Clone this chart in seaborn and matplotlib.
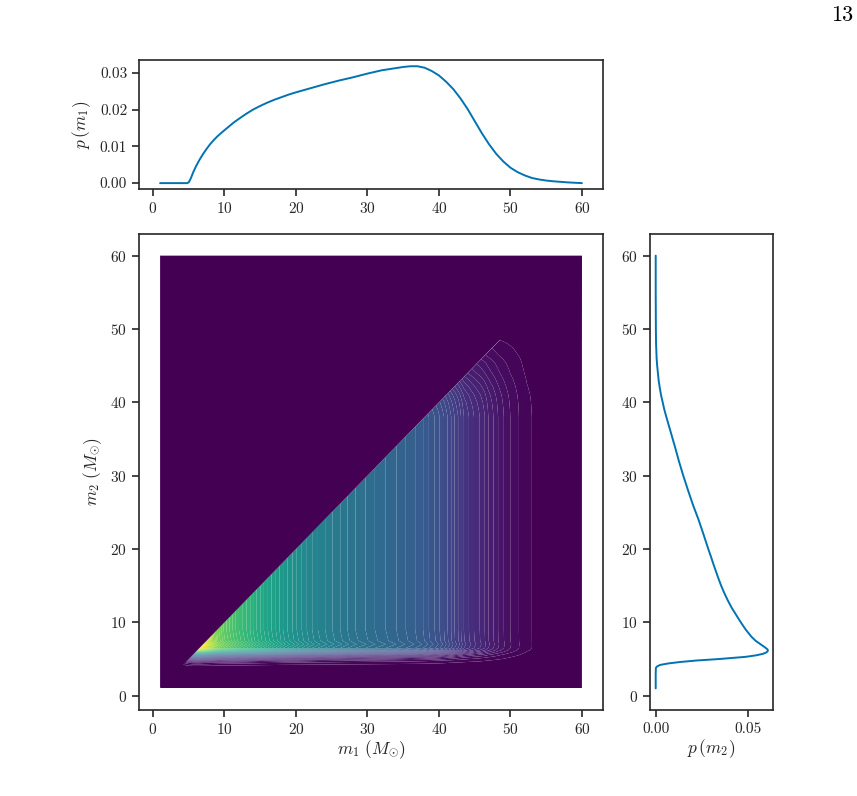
import numpy as np
import matplotlib
matplotlib.use("Agg")
import matplotlib.pyplot as plt
from matplotlib.patches import Polygon
import seaborn as sns

# marginal of m1
m1_vals = [1, 3, 4.8, 5, 5.3, 5.6, 6, 6.5, 7, 7.5, 8, 8.5, 9, 9.7, 10.5, 11.3, 12.1, 13, 14, 15, 16, 17, 18, 19, 20,
           22, 24, 26, 28, 30, 32, 34, 35, 36, 37, 38, 39, 40, 41, 42, 43, 44, 45, 46, 47, 48, 49, 50,
           51, 52, 53, 54, 55, 56, 58, 60]
p_m1 = [0, 0, 0, .0002, .0013, .0028, .0045, .0063, .0079, .0093, .0106, .0117, .0127, .0139, .0152, .0165, .0176,
        .0188, .02, .021, .0219, .0227, .0234, .0241, .0247,
        .0258, .0269, .0279, .0288, .0298, .0307, .0313, .0316, .0318, .0318, .0314, .0305, .0293, .0276, .0256, .0231,
        .0202, .0169, .0136, .0106, .008, .0059, .0042,
        .003, .0021, .0014, .001, .0007, .0005, .0002, 0]

# marginal of m2
m2_vals = [1, 3, 3.8, 4, 4.2, 4.4, 4.6, 4.8, 5, 5.3, 5.5, 5.7, 5.9, 6.1, 6.3, 6.6, 7, 7.5, 8, 9, 10, 11, 12, 13, 14,
           15, 16, 17, 18, 19, 20, 21, 22, 24, 26, 28, 30, 32, 34, 36, 38, 39, 40, 41, 42, 43, 44, 45, 46, 48, 50, 55, 60]
p_m2 = [0, 0, .0001, .0008, .0025, .0069, .0135, .0223, .0345, .049, .0545, .0582, .0602, .061, .0609, .0594, .0571,
        .0543, .0522, .049, .0463, .0438, .0413, .0392, .0373,
        .0356, .0341, .0327, .0313, .03, .0286, .0273, .026, .0233, .0203, .0176, .015, .0126, .0104, .0081, .0058,
        .0047, .0038, .0029, .0022, .0016, .0012, .0008, .0005, .0002, .0001, 0, 0]

# colour level of the joint density along m1 and its falloff along m2
level_m1 = [1, 4, 4.2, 4.5, 5, 5.5, 6.3, 7, 8, 9, 10, 11, 12, 13.1, 13.6, 14, 14.5, 15, 15.5, 16.1, 16.6, 17.2, 17.7,
            18.2, 18.8, 19.5, 20.1, 20.8, 21.5, 22.3, 23.1, 24.1, 25.1, 26.2, 27.2, 28.3, 29.7, 31, 32.5, 34.1, 35.4,
            36.7, 37.8, 38.6, 39.4, 40.1, 40.7, 41.2, 41.7, 42.2, 42.7, 43.1, 43.5, 44.2, 44.9, 45.7, 46.4, 46.9,
            47.6, 48.3, 49.1, 50, 51.2, 51.7, 52.3, 53, 53.2, 53.5, 60]
level_val = [0, 0, .3, .6, .85, .97, 1, .96, .87, .79, .75, .72, .69, .663, .65, .637, .624, .611, .598, .584, .571,
             .558, .545, .532, .519, .506, .493, .48, .467, .453, .44, .427, .414, .401, .388, .375, .362, .349, .336,
             .322, .309, .296, .283, .27, .257, .244, .231, .218, .205, .191, .178, .165, .152, .139, .126, .113, .1,
             .087, .074, .06, .047, .034, .021, .015, .0105, .008, .004, 0, 0]
fall_m2 = [1, 3.9, 4.2, 4.5, 4.8, 5.2, 5.6, 5.9, 6.2, 6.5, 7, 7.5, 9, 38, 39, 40, 41, 42.2, 43.2, 44, 44.6, 45.3, 45.9,
           46.5, 47.4, 48, 48.5, 49, 60]
fall_val = [0, 0, .015, .04, .09, .22, .42, .66, .88, 1, 1.04, 1.01, 1, 1, .98, .95, .9, .8, .7, .61, .56, .5, .43,
            .35, .27, .2, .14, 0, 0]

xticks = [0, 10, 20, 30, 40, 50, 60]
pticks1 = [0, .01, .02, .03]
pticks2 = [0, .05]

sns.set_theme(style="ticks", palette="colorblind")
plt.rcParams['font.family'] = ['cmr10', 'DejaVu Sans']
plt.rcParams['mathtext.fontset'] = 'cm'
plt.rcParams['axes.formatter.use_mathtext'] = True
plt.rcParams['axes.unicode_minus'] = False
plt.rcParams['axes.linewidth'] = 1.2
plt.rcParams['xtick.major.width'] = 1.2
plt.rcParams['ytick.major.width'] = 1.2
plt.rcParams['xtick.major.size'] = 5
plt.rcParams['ytick.major.size'] = 5
plt.rcParams['xtick.labelsize'] = 11
plt.rcParams['ytick.labelsize'] = 11
plt.rcParams['axes.labelsize'] = 12.5

W, H = 857, 796


def place(fig, left, right, top, bottom):
    return fig.add_axes([left / W, 1 - bottom / H, (right - left) / W, (bottom - top) / H])


fig = plt.figure(figsize=(W / 100, H / 100), dpi=100)
ax_top = place(fig, 139, 603, 60, 189)
ax = place(fig, 139, 603, 234, 710)
ax_right = place(fig, 650, 773, 234, 710)

# joint density, contourf seams show white because nothing sits under it
Z = np.outer(fall_val, level_val)
cs = ax.contourf(level_m1, fall_m2, Z, levels=np.arange(.008, 1.06, .0131), cmap="viridis",
                 vmin=0, vmax=1, extend="min", antialiased=True)
tri = Polygon([(1, 1), (60, 1), (60, 60)], transform=ax.transData, fc="none", ec="none")
ax.add_patch(tri)
cs.set_clip_path(tri)
# dark part above the diagonal, wider at both ends so the diagonal seam stops where the density does
ax.add_patch(Polygon([(1, 1.1), (4.2, 1.1), (4.2, 4.2), (48.5, 48.5), (59.9, 48.5), (60, 60), (1, 60)],
                     fc=plt.get_cmap("viridis")(0.0), ec="none"))
ax.set_xlim(-1.95, 62.95)
ax.set_ylim(-1.95, 62.95)
ax.set_xticks(xticks)
ax.set_yticks(xticks)
ax.set_xlabel(r"$m_1\ (M_{\odot})$", labelpad=1)
ax.set_ylabel(r"$m_2\ (M_{\odot})$", labelpad=4.5)

sns.lineplot(x=m1_vals, y=p_m1, ax=ax_top, estimator=None, linewidth=1.4)
ax_top.set_xlim(-1.95, 62.95)
ax_top.set_ylim(-.0016, .0335)
ax_top.set_xticks(xticks)
ax_top.set_yticks(pticks1)
ax_top.set_yticklabels(["%.2f" % t for t in pticks1])
ax_top.set_ylabel(r"$p\,(m_1)$", labelpad=5)

sns.lineplot(x=p_m2, y=m2_vals, ax=ax_right, estimator=None, orient="y", linewidth=1.4)
ax_right.set_ylim(-1.95, 62.95)
ax_right.set_xlim(-.0031, .0638)
ax_right.set_yticks(xticks)
ax_right.set_xticks(pticks2)
ax_right.set_xticklabels(["%.2f" % t for t in pticks2])
ax_right.set_xlabel(r"$p\,(m_2)$", labelpad=1)

# page number of the paper
fig.text(853 / W, 1 - 15 / H, "13", ha="right", va="center", fontsize=16, color="black")

plt.savefig("out.png", dpi=100)
